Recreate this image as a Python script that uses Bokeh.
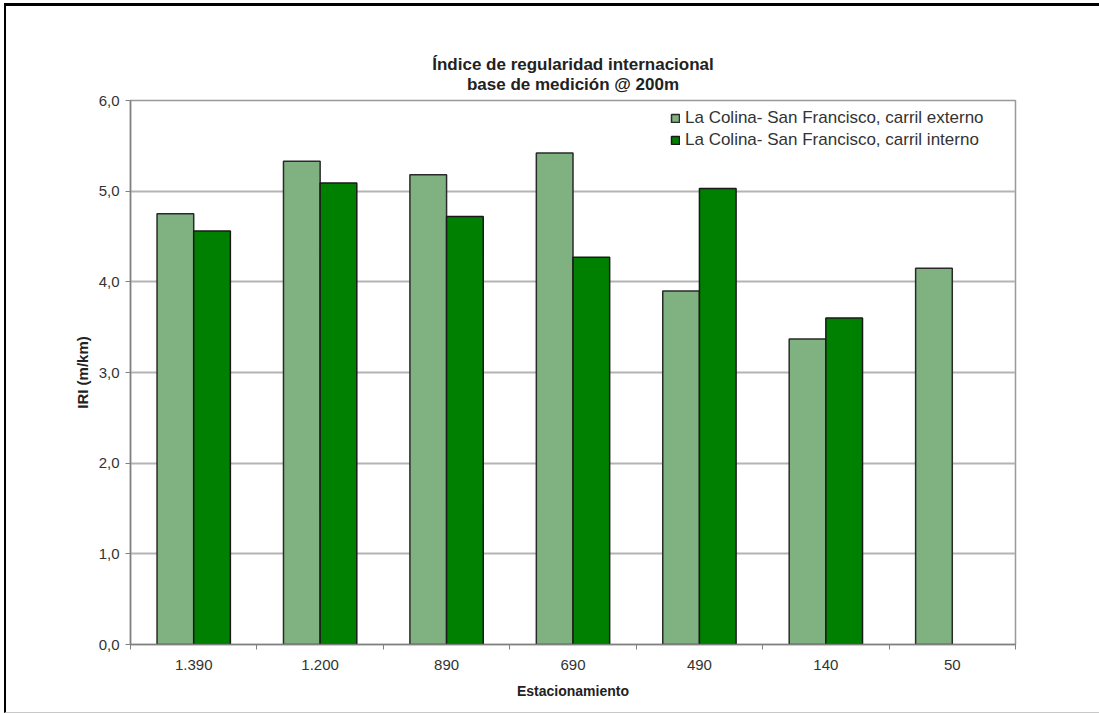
from bokeh.plotting import figure
from bokeh.models import (ColumnDataSource, FixedTicker, Title, Legend,
                          LegendItem)
from bokeh.embed import file_html
from bokeh.resources import INLINE

# Stations (categories) along the road, and IRI values per lane
estaciones = ["1.390", "1.200", "890", "690", "490", "140", "50"]
carril_externo = [4.75, 5.33, 5.18, 5.42, 3.90, 3.37, 4.15]
carril_interno = [4.56, 5.09, 4.72, 4.27, 5.03, 3.60, None]
y_ticks = [0, 1, 2, 3, 4, 5, 6]
y_tick_labels = ["0,0", "1,0", "2,0", "3,0", "4,0", "5,0", "6,0"]

titulo = ["Índice de regularidad internacional", "base de medición @ 200m"]
serie_ext = "La Colina- San Francisco, carril externo"
serie_int = "La Colina- San Francisco, carril interno"

FONT = "Liberation Sans"
BAR_W = 0.29

ext_src = ColumnDataSource(dict(
    x=[i + 0.5 - BAR_W / 2 for i in range(len(estaciones))],
    top=carril_externo,
))
idx_int = [i for i, v in enumerate(carril_interno) if v is not None]
int_src = ColumnDataSource(dict(
    x=[i + 0.5 + BAR_W / 2 for i in idx_int],
    top=[carril_interno[i] for i in idx_int],
))

p = figure(width=1095, height=710, x_range=(0, 7), y_range=(0, 6),
           output_backend="svg", toolbar_location=None,
           min_border_left=124, min_border_right=86,
           min_border_top=94, min_border_bottom=72)
p.title = None
p.styles = {"margin-left": "4px", "margin-top": "3px",
            "border-left": "2px solid #000", "border-top": "3px solid #000",
            "border-right": "0px none", "border-bottom": "1px solid #c8c8c8"}

r_ext = p.vbar(x="x", top="top", width=BAR_W, bottom=0, source=ext_src,
               fill_color="#80b180", line_color="#2a2a2a", line_width=1.5)
r_int = p.vbar(x="x", top="top", width=BAR_W, bottom=0, source=int_src,
               fill_color="#008000", line_color="#1a1a1a", line_width=1.5)

# Two-line chart title
p.add_layout(Title(text="\n".join(titulo), align="center", text_align="center",
                   text_font=FONT, text_font_size="17px",
                   text_font_style="bold", text_color="#222222",
                   text_line_height=1.05, standoff=13), "above")

# Axes
p.xaxis.ticker = FixedTicker(ticks=[i + 0.5 for i in range(len(estaciones))],
                             minor_ticks=list(range(len(estaciones) + 1)))
p.xaxis.major_label_overrides = {i + 0.5: s for i, s in enumerate(estaciones)}
p.xaxis.major_tick_line_color = None
p.xaxis.major_tick_out = 0
p.xaxis.major_tick_in = 0
p.xaxis.minor_tick_out = 5
p.xaxis.minor_tick_in = 0
p.xaxis.minor_tick_line_color = "#808080"
p.xaxis.major_label_standoff = 10
p.xaxis.axis_label = "Estacionamiento"
p.xaxis.axis_label_standoff = 10

p.yaxis.ticker = FixedTicker(ticks=y_ticks)
p.yaxis.major_label_overrides = dict(zip(y_ticks, y_tick_labels))
p.yaxis.major_tick_out = 5
p.yaxis.major_tick_in = 0
p.yaxis.minor_tick_line_color = None
p.yaxis.major_tick_line_color = "#808080"
p.yaxis.major_label_standoff = 6
p.yaxis.axis_label = "IRI (m/km)"
p.yaxis.axis_label_standoff = 5

for ax in (p.xaxis, p.yaxis):
    ax.axis_line_color = "#808080"
    ax.axis_line_width = 1.5
    ax.major_label_text_font = FONT
    ax.major_label_text_font_size = "15px"
    ax.major_label_text_color = "#333333"
    ax.axis_label_text_font = FONT
    ax.axis_label_text_font_style = "bold"
    ax.axis_label_text_color = "#222222"
p.xaxis.axis_label_text_font_size = "14px"
p.yaxis.axis_label_text_font_size = "15px"

# Grid and frame
p.xgrid.grid_line_color = None
p.ygrid.grid_line_color = "#b4b4b4"
p.ygrid.grid_line_width = 2
p.outline_line_color = "#999999"
p.outline_line_width = 1.5
p.background_fill_color = "white"
p.border_fill_color = "white"

legend = Legend(items=[LegendItem(label=serie_ext, renderers=[r_ext]),
                       LegendItem(label=serie_int, renderers=[r_int])],
                location=(540, 494), orientation="vertical")
legend.border_line_color = None
legend.background_fill_alpha = 0
legend.padding = 0
legend.margin = 0
legend.spacing = 2
legend.glyph_width = 10
legend.glyph_height = 10
legend.label_height = 20
legend.label_standoff = 5
legend.label_text_font = FONT
legend.label_text_font_size = "17px"
legend.label_text_color = "#333333"
p.add_layout(legend, "center")

open("out.html", "w").write(file_html(p, INLINE))
